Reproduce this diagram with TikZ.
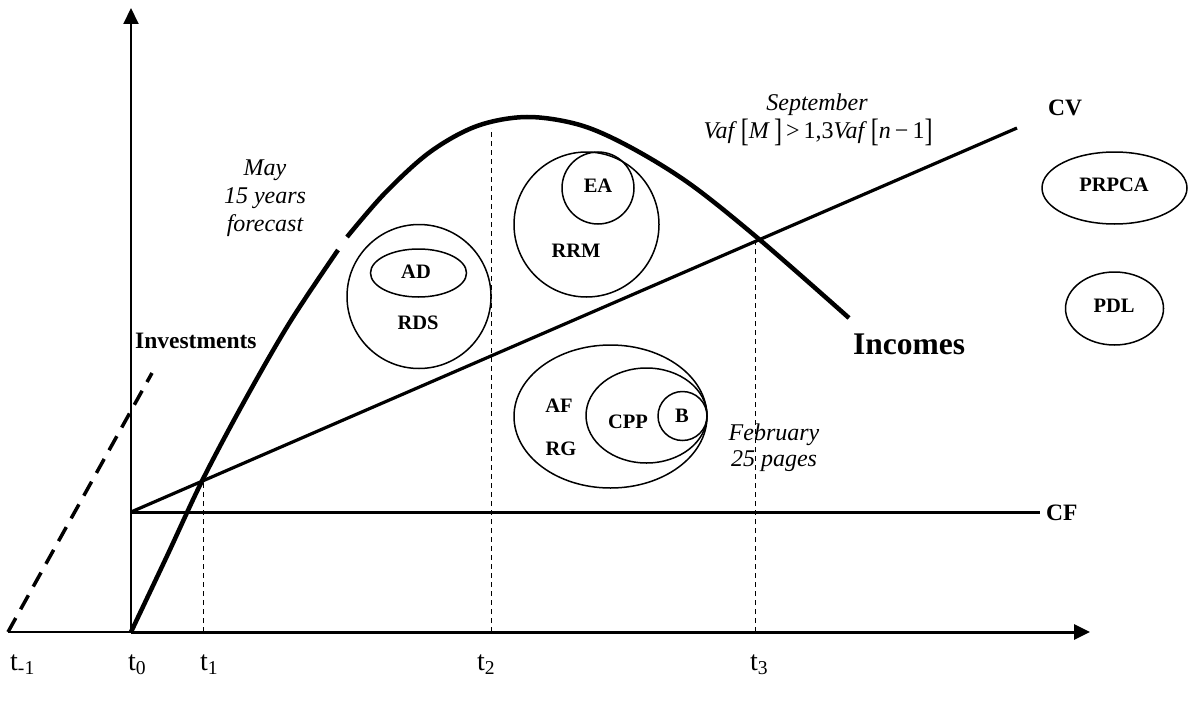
\documentclass[tikz,border=0pt]{standalone}
\usepackage{fontspec}
\setmainfont{Liberation Serif}
\usepackage{graphicx}
\usetikzlibrary{arrows.meta,shapes.geometric}
\newcommand{\bigbr}[1]{\raisebox{-0.12em}{\scalebox{1}[1.35]{#1}}}
\begin{document}
\begin{tikzpicture}[x=1pt,y=-1pt,
  ring/.style={draw, line width=1.5pt, inner sep=0pt},
  circ/.style={ring, circle},
  ell/.style={ring, ellipse},
  lbl/.style={font=\fontsize{20.5}{24}\selectfont\bfseries, inner sep=0pt, anchor=base},
  note/.style={font=\fontsize{24}{28}\selectfont\itshape, inner sep=0pt, anchor=base},
  big/.style={font=\fontsize{23.5}{28}\selectfont\bfseries, inner sep=0pt, anchor=base west},
  ticklbl/.style={font=\fontsize{28}{32}\selectfont, inner sep=0pt, anchor=base west},
  guide/.style={line width=0.9pt, dash pattern=on 5pt off 4pt},
  arr/.style={-{Triangle[length=16pt,width=15pt]}}]
\useasboundingbox (0,0) rectangle (1193,706);

% coordinates
\coordinate (tm1) at (8,632);
\coordinate (O) at (131,632);
\coordinate (ytop) at (131,8);
\coordinate (xend) at (1090,632);
\coordinate (inv) at (152,373);
\coordinate (cf0) at (131,512);
\coordinate (cfend) at (1040,512);
\coordinate (cvend) at (1017,128);
\coordinate (p1) at (203,479);
\coordinate (t1b) at (203,632);
\coordinate (p2) at (491,128);
\coordinate (t2b) at (491,632);
\coordinate (p3) at (755,240);
\coordinate (t3b) at (755,632);

% guides
\draw[guide] (t1b) -- (p1);
\draw[guide] (t2b) -- (p2);
\draw[guide] (t3b) -- (p3);

% axes
\draw[line width=1.5pt] (tm1) -- (O);
\draw[line width=3pt, arr] (O) -- (xend);
\draw[line width=2pt, arr] (O) -- (ytop);

% investments
\draw[line width=3.5pt, dash pattern=on 16pt off 10pt] (tm1) -- (inv);

% CF and CV
\draw[line width=3pt] (cf0) -- (cfend);
\draw[line width=3.2pt] (cf0) -- (cvend);

% incomes curve (with small break)
\draw[line width=4.5pt] plot[smooth, tension=0.55] coordinates
  {(131,632) (167,556) (203,479) (245,400) (290,322) (338,250)};
\draw[line width=4.5pt] plot[smooth, tension=0.55] coordinates
  {(347,237) (385,193) (430,152) (477,126) (527,117) (580,125) (630,147) (690,184) (760,240) (849,318)};

% circles
\node[circ, minimum size=144pt] (rds) at (419,296.5) {};
\node[ell, minimum width=96pt, minimum height=48pt] (ad) at (418.5,273) {};
\node[circ, minimum size=145pt] (rrm) at (586.5,224.5) {};
\node[circ, minimum size=72pt] (ea) at (598,188) {};
\node[ell, minimum width=193pt, minimum height=143pt] (afrg) at (610.5,416.5) {};
\node[ell, minimum width=121pt, minimum height=95pt] (cpp) at (646.5,415.5) {};
\node[circ, minimum size=49pt] (b) at (682.5,416) {};
\node[ell, minimum width=145pt, minimum height=72pt] (prpca) at (1114.5,188) {};
\node[ell, minimum width=98pt, minimum height=73pt] (pdl) at (1114.5,308.5) {};

% labels inside
\node[lbl] (adl) at (416,278) {AD};
\node[lbl] (rdsl) at (418,329) {RDS};
\node[lbl] (eal) at (598,192) {EA};
\node[lbl] (rrml) at (576,257) {RRM};
\node[lbl] (afl) at (559,412) {AF};
\node[lbl] (rgl) at (561,455) {RG};
\node[lbl] (cppl) at (628,428) {CPP};
\node[lbl] (bl) at (682,422) {B};
\node[lbl] (prpcal) at (1114,191) {PRPCA};
\node[lbl] (pdll) at (1114,312) {PDL};

% other labels
\node[big] (invl) at (135,348) {Investments};
\node[big] (cvl) at (1048,116) {CV};
\node[big] (cfl) at (1046,520) {CF};
\node[font=\fontsize{31.5}{36}\selectfont\bfseries, inner sep=0pt, anchor=base west] (incl) at (853,354) {Incomes};

\node[note] (may1) at (265,175) {May};
\node[note] (may2) at (265,203) {15 years};
\node[note] (may3) at (265,231) {forecast};
\node[note] (sep) at (817,111) {September};
\node[font=\fontsize{24}{28}\selectfont, inner sep=0pt, anchor=base] (form) at (818,139)
  {\textit{Vaf}\,\bigbr{[}\textit{M}\,\bigbr{]}\,>\,1,3\textit{Vaf}\,\bigbr{[}\textit{n}\,−\,1\bigbr{]}};
\node[note] (feb1) at (774,440) {February};
\node[note] (feb2) at (774,466) {25 pages};

% time labels
\node[ticklbl] (lm1) at (10,670) {t\textsubscript{-1}};
\node[ticklbl] (l0) at (128,670) {t\textsubscript{0}};
\node[ticklbl] (l1) at (200,670) {t\textsubscript{1}};
\node[ticklbl] (l2) at (477,670) {t\textsubscript{2}};
\node[ticklbl] (l3) at (750,670) {t\textsubscript{3}};
\end{tikzpicture}
\end{document}
